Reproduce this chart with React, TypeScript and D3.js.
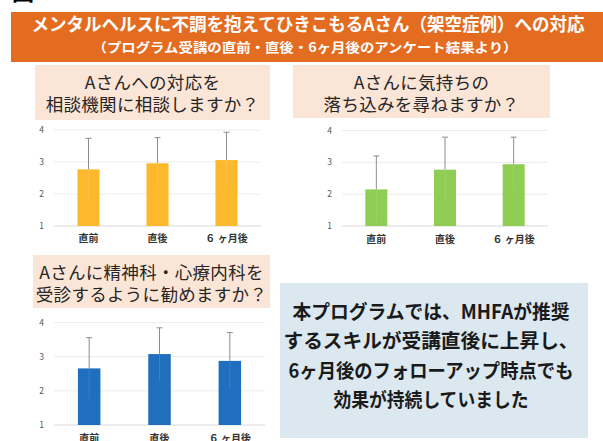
import React from 'react';
import * as d3 from 'd3';

const categories = ['直前', '直後', '６ ヶ月後'];
const yTicks = [1, 2, 3, 4];

const consultMeans = [2.77, 2.96, 3.06];
const consultUpper = [3.74, 3.76, 3.93];
const moodMeans = [2.15, 2.77, 2.94];
const moodUpper = [3.2, 3.79, 3.79];
const psychMeans = [2.66, 3.08, 2.88];
const psychUpper = [3.56, 3.85, 3.71];

const titleConsult = ['Aさんへの対応を', '相談機関に相談しますか？'];
const titleMood = ['Aさんに気持ちの', '落ち込みを尋ねますか？'];
const titlePsych = ['Aさんに精神科・心療内科を', '受診するように勧めますか？'];

const bannerTitle = 'メンタルヘルスに不調を抱えてひきこもるAさん（架空症例）への対応';
const bannerSub = '（プログラム受講の直前・直後・6ヶ月後のアンケート結果より）';
const summaryLines = [
  '本プログラムでは、MHFAが推奨',
  'するスキルが受講直後に上昇し、',
  '6ヶ月後のフォローアップ時点でも',
  '効果が持続していました',
];
const summaryWidths = [277, 295, 285, 195];

const FONT = "'Noto Sans CJK JP', 'Noto Sans', sans-serif";

type PanelProps = {
  means: number[];
  upper: number[];
  color: string;
  x0: number;
  x1: number;
  yTop: number;
  yBottom: number;
  labelY: number;
};

function Panel({ means, upper, color, x0, x1, yTop, yBottom, labelY }: PanelProps) {
  const x = d3.scaleBand<string>().domain(categories).range([x0, x1]).paddingInner(0.68).paddingOuter(0.34);
  const y = d3.scaleLinear().domain([1, 4]).range([yBottom, yTop]);
  return (
    <g>
      {yTicks.map((t) => (
        <g key={t}>
          <line x1={x0} x2={x1} y1={y(t)} y2={y(t)} stroke={t === 1 ? '#d9d9d9' : '#ececec'} strokeWidth={1} />
          <text x={x0 - 10} y={y(t) + 3} fontSize={8.5} fill="#595959" textAnchor="end" fontFamily={FONT}>
            {t}
          </text>
        </g>
      ))}
      {categories.map((c, i) => {
        const bx = x(c)!;
        const cx = bx + x.bandwidth() / 2;
        return (
          <g key={c}>
            <line x1={cx} x2={cx} y1={y(means[i])} y2={y(upper[i])} stroke="#8c8c8c" strokeWidth={1} />
            <line x1={cx - 3} x2={cx + 3} y1={y(upper[i])} y2={y(upper[i])} stroke="#8c8c8c" strokeWidth={1} />
            <rect x={bx} y={y(means[i])} width={x.bandwidth()} height={y(1) - y(means[i])} fill={color} />
            <line x1={cx} x2={cx} y1={y(means[i])} y2={y(Math.max(1, 2 * means[i] - upper[i]))} stroke="#ffffff" strokeOpacity={0.12} strokeWidth={1} />
            <text x={cx} y={labelY} fontSize={10} fontWeight="bold" fill="#333" textAnchor="middle" fontFamily={FONT}>
              {c}
            </text>
          </g>
        );
      })}
    </g>
  );
}

function TitleBox({ lines, x, y, w, h }: { lines: string[]; x: number; y: number; w: number; h: number }) {
  return (
    <g>
      <rect x={x} y={y} width={w} height={h} fill="#fbe5d6" />
      {lines.map((l, i) => (
        <text key={i} x={x + w / 2} y={y + 24 + i * 22} fontSize={17.5} letterSpacing={0.3} fill="#262626" textAnchor="middle" fontFamily={FONT}>
          {l}
        </text>
      ))}
    </g>
  );
}

export default function App() {
  return (
    <svg width={603} height={441} style={{ position: 'absolute', left: 0, top: 0, background: '#fff' }} fontFamily={FONT}>
      <rect x={0} y={0} width={603} height={441} fill="#ffffff" />
      <text x={12} y={0} fontSize={22} fontWeight="bold" fill="#000">図 2</text>
      <rect x={11} y={12} width={592} height={50} fill="#e36c21" />
      <text x={308} y={31} fontSize={18} fontWeight="bold" fill="#fff" textAnchor="middle" textLength={553} lengthAdjust="spacingAndGlyphs">
        {bannerTitle}
      </text>
      <text x={305} y={52} fontSize={13} fontWeight="bold" fill="#fff" textAnchor="middle" textLength={425} lengthAdjust="spacingAndGlyphs">
        {bannerSub}
      </text>

      <TitleBox lines={titleConsult} x={35} y={65} w={235} h={55} />
      <TitleBox lines={titleMood} x={293} y={65} w={257} h={53} />
      <TitleBox lines={titlePsych} x={33} y={255} w={237} h={53} />

      <Panel means={consultMeans} upper={consultUpper} color="#fbb92b" x0={54} x1={261} yTop={130} yBottom={226} labelY={242} />
      <Panel means={moodMeans} upper={moodUpper} color="#8fcd55" x0={342} x1={548} yTop={130.5} yBottom={226} labelY={243} />
      <Panel means={psychMeans} upper={psychUpper} color="#1f6fbe" x0={54} x1={265} yTop={322.7} yBottom={425} labelY={442} />

      <rect x={280} y={283} width={308} height={155} fill="#dbe8f0" />
      {summaryLines.map((l, i) => (
        <text key={i} x={431} y={319 + i * 29.3} fontSize={19.5} fontWeight="bold" fill="#1a1a1a" textAnchor="middle" textLength={summaryWidths[i]} lengthAdjust="spacingAndGlyphs">
          {l}
        </text>
      ))}
    </svg>
  );
}
